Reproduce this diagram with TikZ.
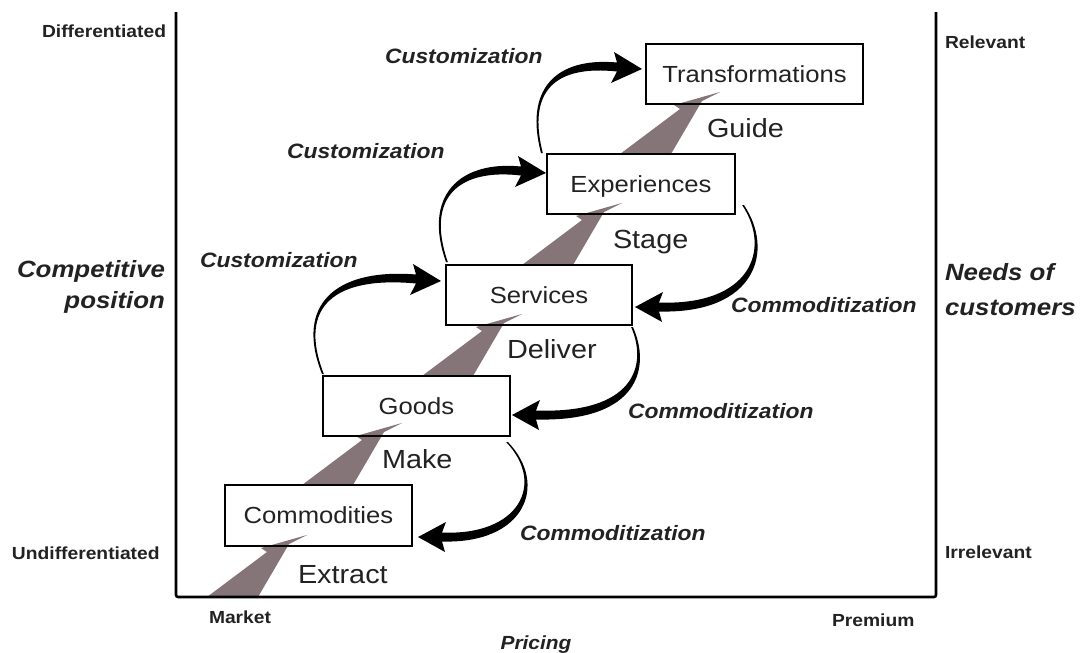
\documentclass[tikz,border=0pt]{standalone}
\usepackage{fontspec}
\setmainfont[FakeStretch=1.1]{Liberation Sans}
\usetikzlibrary{calc}
\definecolor{wedge}{RGB}{133,117,121}
\definecolor{ink}{RGB}{34,34,34}
\pgfdeclarelayer{bg}
\pgfsetlayers{bg,main}
\newcommand\fs[1]{\fontsize{#1}{#1}\selectfont}
% customization arrow: #1 start coordinate, #2 #3 tip offset (px), #4 bulge control x
\newcommand\custarr[4]{%
 \begin{scope}[shift={(#1)}]
 \fill[black] (0,0) .. controls ({#4-1.5},{0.74*#3}) and (13,{1.097*#3-4}) .. ({#2-25},{#3-6.5})
   -- ({#2-28},{#3-17}) -- (#2,#3) -- ({#2-31},{#3+14}) -- ({#2-25},{#3+2.5})
   .. controls (14,{1.097*#3+4}) and ({#4+1},{0.74*#3}) .. (1.8,0) -- cycle;
 \end{scope}}
% commoditization arrow: #1 start, #2 #3 tip offset, #4 c1x, #5 c2x
\newcommand\commarr[5]{%
 \begin{scope}[shift={(#1)}]
 \fill[black] (0.9,0) .. controls ({#4+1.5},{0.44*#3}) and ({#5+4},{#3+7}) .. ({#2+24},{#3+4.5})
   -- ({#2+27},{#3+15}) -- (#2,#3) -- ({#2+28},{#3-15}) -- ({#2+24},{#3-4.5})
   .. controls ({#5-3},{#3-1}) and ({#4-1},{0.44*#3}) .. (-0.9,0) -- cycle;
 \end{scope}}
% grey wedge arrow from base-left point
\newcommand\wedgearr[1]{%
 \fill[wedge,shift={(#1)}] (0,0) -- (60,-45) -- (54,-49) -- (100,-62) -- (82,-53) -- (51,0) -- cycle;}
\begin{document}
\begin{tikzpicture}[x=1pt,y=-1pt,
  box/.style={draw=black, line width=2.6pt, minimum width=#1, minimum height=60pt,
    inner sep=0pt, outer sep=0pt, text height=16.7pt, text depth=0pt, font=\fs{23.3}, text=ink},
  lbl/.style={inner sep=0pt, outer sep=0pt, anchor=base west, text=ink},
  verb/.style={lbl, font=\fs{26.2}},
  flow/.style={lbl, font=\fs{20.8}\bfseries\itshape},
  axlab/.style={lbl, font=\fs{17.5}\bfseries},
  axtitle/.style={lbl, font=\fs{23.5}\bfseries\itshape}]
\useasboundingbox (0,0) rectangle (1082,653);

% boxes
\node[box=187pt, minimum height=61pt] (commodities) at (318.5,515.5) {Commodities};
\node[box=187pt] (goods) at (416.5,406) {Goods};
\node[box=186pt] (services) at (539,295) {Services};
\node[box=188pt] (experiences) at (641,184) {Experiences};
\node[box=217pt] (transformations) at (754.5,74) {Transformations};

% axes
\coordinate (axtop) at (176,12);
\coordinate (axorigin) at (176,597);
\coordinate (axright) at (936,597);
\coordinate (axrtop) at (936,12);
\draw[line width=2.6pt, rounded corners=2pt] (axtop) -- (axorigin) -- (axright) -- (axrtop);

% background and grey wedges
\begin{pgfonlayer}{bg}
\fill[white] (0,0) rectangle (1082,653);
\coordinate (w1) at (207,597);
\wedgearr{w1}
\wedgearr{$(commodities.north west)+(77,0)$}
\wedgearr{$(goods.north west)+(99,0)$}
\wedgearr{$(services.north west)+(76,0)$}
\wedgearr{$(experiences.north west)+(73,0)$}
\end{pgfonlayer}

% customization arrows
\custarr{$(goods.north west)+(-1,-2)$}{119}{-93}{-26}
\custarr{$(services.north west)+(0,-3)$}{100}{-89}{-22}
\custarr{$(experiences.north west)+(-6,-1)$}{101}{-84}{-15}

% commoditization arrows
\commarr{$(experiences.south east)+(8,-9)$}{-108}{102}{30}{10}
\commarr{$(services.south east)+(0,2)$}{-120}{88}{17}{5}
\commarr{$(goods.south east)+(-3,6)$}{-89}{95}{40}{15}

% verbs
\node[verb] (extract) at (298,583) {Extract};
\node[verb] (make) at (382,468) {Make};
\node[verb] (deliver) at (507,358) {Deliver};
\node[verb] (stage) at (613,248) {Stage};
\node[verb] (guide) at (707,137) {Guide};

% flow labels
\node[flow] (cust1) at (200,267) {Customization};
\node[flow] (cust2) at (287,158) {Customization};
\node[flow] (cust3) at (385,63) {Customization};
\node[flow] (comm1) at (731,312) {Commoditization};
\node[flow] (comm2) at (628,418) {Commoditization};
\node[flow] (comm3) at (520,540) {Commoditization};

% axis labels
\node[axlab] (diff) at (42,37) {Differentiated};
\node[axlab] (undiff) at (12,559) {Undifferentiated};
\node[axlab] (relevant) at (945,48) {Relevant};
\node[axlab] (irrelevant) at (945,558) {Irrelevant};
\node[axlab] (market) at (209,623) {Market};
\node[axlab] (premium) at (832,626) {Premium};
\node[lbl, anchor=base, font=\fs{19}\bfseries\itshape] (pricing) at (536,649) {Pricing};
\node[axtitle, anchor=base east] (comp1) at (165,277) {Competitive};
\node[axtitle, anchor=base east] (comp2) at (165,308) {position};
\node[axtitle] (needs1) at (945,280) {Needs of};
\node[axtitle] (needs2) at (945,315) {customers};
\end{tikzpicture}
\end{document}
